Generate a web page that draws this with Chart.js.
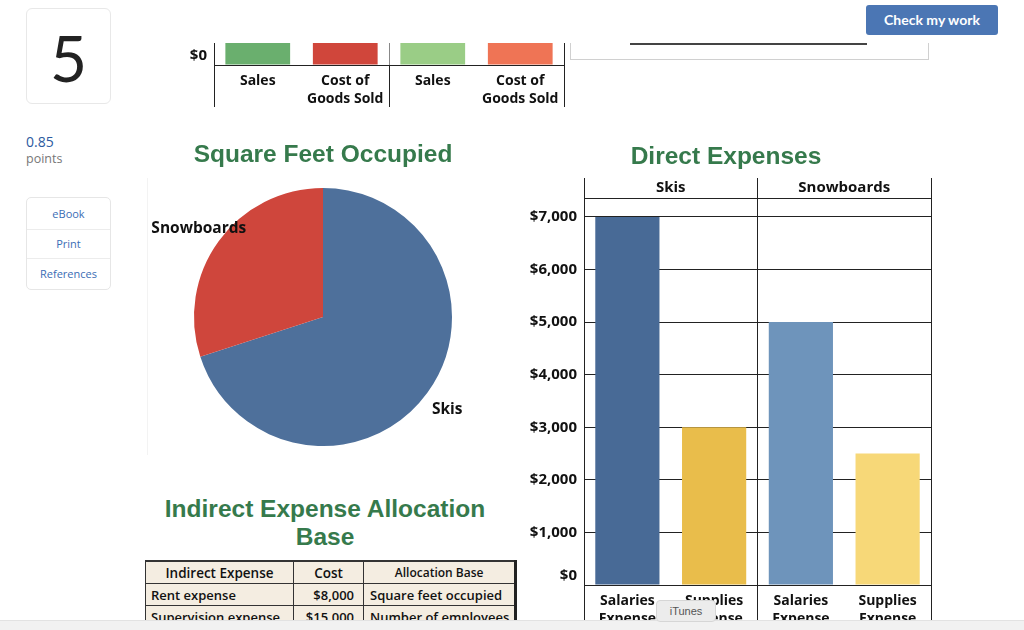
<!DOCTYPE html>
<html><head><meta charset="utf-8">
<script src="https://cdn.jsdelivr.net/npm/chart.js@4.4.1/dist/chart.umd.min.js"></script>
<style>
html,body{margin:0;padding:0;width:1024px;height:630px;overflow:hidden;background:#fff;font-family:"Open Sans",sans-serif;}
.a{position:absolute;}
#numbox{left:26px;top:8px;width:83px;height:94px;border:1px solid #e8e8e8;border-radius:6px;font-family:Lato,sans-serif;font-size:64px;color:#222;text-align:center;line-height:98px;}
#pts{left:26px;top:133px;font-size:14px;color:#2c5aa0;line-height:18px;}
#ptsl{left:26px;top:151px;font-size:12.5px;color:#777;line-height:16px;}
#links{left:26px;top:197px;width:83px;height:91px;border:1px solid #e6e6e6;border-radius:5px;font-size:11px;color:#3b6db5;}
#links div{text-align:center;border-bottom:1px solid #ececec;}
#btn{left:866px;top:5px;width:132px;height:30px;background:#4b76b4;border-radius:3px;color:#fff;font-family:Lato,sans-serif;font-weight:bold;font-size:14px;line-height:29px;text-align:center;}
#topclip{left:0;top:43px;width:1024px;height:64px;overflow:hidden;}
#sales{position:absolute;left:141px;top:-278px;}
#legbox{left:570px;top:43px;width:357px;height:16px;border:1px solid #d0d0d0;border-top:none;}
#legline{left:630px;top:43px;width:237px;height:2px;background:#444;}
#pieline{left:147px;top:178px;width:1px;height:277px;background:#f3f3f3;}
#pie{left:147px;top:135px;}
#direct{left:521px;top:135px;}
#iehead{left:140px;top:495px;width:370px;text-align:center;font-family:"Liberation Sans",Arial,sans-serif;font-weight:bold;font-size:24.5px;line-height:28px;color:#367a4c;}
#tbl{left:145px;top:560px;}
table{border-collapse:collapse;background:#f4ede1;font-family:"Open Sans",sans-serif;font-weight:600;color:#111;font-size:13px;border-top:2px solid #333;}
td,th{border:1px solid #333;padding:0 5px;height:21px;white-space:nowrap;}
th{font-weight:600;font-size:13.5px;}
td.last,th.last{border-right:3px solid #222;}
#bar{left:0;top:620px;width:1024px;height:10px;background:#f1f1f1;border-top:1px solid #e2e2e2;}
#itunes{left:656px;top:600px;width:58px;height:20px;background:#ececec;border:1px solid #d6d6d6;border-radius:4px;font-family:"Liberation Sans",sans-serif;font-size:11px;color:#555;text-align:center;line-height:20px;}
</style></head><body>
<div class="a" id="numbox">5</div>
<div class="a" id="pts">0.85</div>
<div class="a" id="ptsl">points</div>
<div class="a" id="links">
 <div style="height:31px;line-height:31px;">eBook</div>
 <div style="height:28px;line-height:28px;">Print</div>
 <div style="height:30px;line-height:30px;border-bottom:none;">References</div>
</div>
<div class="a" id="btn">Check my work</div>
<div class="a" id="topclip"><canvas id="sales" width="424" height="360"></canvas></div>
<div class="a" id="legbox"></div>
<div class="a" id="legline"></div>
<div class="a" id="pieline"></div>
<canvas class="a" id="pie" width="352" height="311"></canvas>
<canvas class="a" id="direct" width="411" height="510"></canvas>
<div class="a" id="iehead">Indirect Expense Allocation<br>Base</div>
<div class="a" id="tbl">
<table>
<tr><th style="width:137px;">Indirect Expense</th><th style="width:59px;">Cost</th><th class="last" style="width:136px;font-size:12px;">Allocation Base</th></tr>
<tr><td>Rent expense</td><td style="text-align:right;padding-right:9px;">$8,000</td><td class="last" style="padding-left:6px;">Square feet occupied</td></tr>
<tr><td>Supervision expense</td><td style="text-align:right;padding-right:9px;">$15,000</td><td class="last" style="padding-left:6px;">Number of employees</td></tr>
</table>
</div>
<div class="a" id="bar"></div>
<div class="a" id="itunes">iTunes</div>

<script>
// ---- data ----
const pieLabels = ['Skis', 'Snowboards'];
const pieValues = [70, 30];
const pieColors = ['#4e709b', '#cf463c'];

const directGroups = ['Skis', 'Snowboards'];
const directCategories = [['Salaries', 'Expense'], ['Supplies', 'Expense'], ['Salaries', 'Expense'], ['Supplies', 'Expense']];
const directValues = [7000, 3000, 5000, 2500];
const directColors = ['#486a96', '#e9bd4b', '#6e94bb', '#f7d878'];
const directTicks = [0, 1000, 2000, 3000, 4000, 5000, 6000, 7000];

const salesGroups = ['Skis', 'Snowboards'];
const salesCategories = ['Sales', ['Cost of', 'Goods Sold'], 'Sales', ['Cost of', 'Goods Sold']];
const salesValues = [30000, 18000, 25000, 15000];
const salesColors = ['#6aaf6e', '#d0463b', '#9acd86', '#ef7455'];
const salesTicks = [0, 10000, 20000, 30000];

// ---- styling ----
const GREEN = '#367a4c';
const LINE = '#222';
const TXT = '#111';
const tickFont = {family: 'Open Sans', size: 15, weight: 'bold', lineHeight: 1.2};
const catFont = {family: 'Open Sans', size: 14, weight: 'bold', lineHeight: 1.3};
const titleFont = {family: 'Liberation Sans', size: 24.5, weight: 'bold', lineHeight: 1.2};
const money = v => v === 0 ? ['$0', ''] : '$' + Number(v).toLocaleString('en-US');
const evenLine = ctx => (ctx.index === undefined || ctx.index % 2 === 0) ? LINE : 'rgba(0,0,0,0)';

function barOptions(titleText, groups, ticks, ymax, midColor) {
  return {
    responsive: false, maintainAspectRatio: false, animation: false,
    layout: {padding: {left: 0, right: 1, top: 0, bottom: 0}},
    plugins: {
      legend: {display: false}, tooltip: {enabled: false},
      title: {display: !!titleText, text: titleText, color: GREEN, font: titleFont, padding: {top: 8, bottom: 0}}
    },
    scales: {
      x: {
        type: 'category', position: 'bottom', offset: true,
        grid: {offset: true, drawOnChartArea: false, drawTicks: true, tickLength: 50, color: evenLine, lineWidth: 1},
        border: {display: true, color: LINE},
        ticks: {color: TXT, font: catFont, padding: -43, maxRotation: 0, autoSkip: false},
        afterFit(s) { s.height = 60; }
      },
      x2: {
        type: 'category', position: 'top', labels: groups, offset: true,
        grid: {offset: true, drawOnChartArea: true, drawTicks: true, tickLength: 20,
               color: ctx => ctx.index === 1 ? midColor : LINE, lineWidth: 1},
        border: {display: true, color: LINE},
        ticks: {color: TXT, font: tickFont, padding: -19, maxRotation: 0, autoSkip: false},
        afterFit(s) { s.height = 25.6; }
      },
      y: {
        min: 0, max: ymax,
        afterBuildTicks(s) { s.ticks = ticks.map(v => ({value: v})); },
        grid: {drawTicks: false, color: LINE, lineWidth: 1},
        border: {display: false},
        ticks: {padding: 7, color: TXT, font: tickFont, callback: money},
        afterFit(s) { s.width = 63; }
      }
    }
  };
}

// Direct expenses chart
new Chart(document.getElementById('direct'), {
  type: 'bar',
  data: {labels: directCategories, datasets: [{data: directValues, backgroundColor: directColors, borderWidth: 0, barPercentage: 0.74, categoryPercentage: 1}]},
  options: barOptions('Direct Expenses', directGroups, directTicks, 7360, LINE)
});

// Sales / COGS chart (only its bottom is visible)
const salesOpts = barOptions('', salesGroups, salesTicks, 32000, '#888');
salesOpts.scales.y.afterFit = s => { s.width = 73; };
salesOpts.scales.x2.afterFit = s => { s.height = 28.6; };
new Chart(document.getElementById('sales'), {
  type: 'bar',
  data: {labels: salesCategories, datasets: [{data: salesValues, backgroundColor: salesColors, borderWidth: 0, barPercentage: 0.74, categoryPercentage: 1}]},
  options: salesOpts
});

// Pie chart
const pieLabelPlugin = {
  id: 'pieLabels',
  afterDatasetsDraw(chart) {
    const ctx = chart.ctx;
    const meta = chart.getDatasetMeta(0);
    ctx.save();
    ctx.font = 'bold 15.5px "Open Sans"';
    ctx.fillStyle = TXT;
    ctx.textAlign = 'center';
    ctx.textBaseline = 'middle';
    meta.data.forEach((arc, i) => {
      const p = arc.getProps(['x', 'y', 'startAngle', 'endAngle', 'outerRadius'], true);
      const mid = (p.startAngle + p.endAngle) / 2;
      const r = p.outerRadius * 1.19;
      ctx.fillText(chart.data.labels[i], p.x + Math.cos(mid) * r, p.y + Math.sin(mid) * r + 2);
    });
    ctx.restore();
  }
};
new Chart(document.getElementById('pie'), {
  type: 'pie',
  data: {labels: pieLabels, datasets: [{data: pieValues, backgroundColor: pieColors, borderWidth: 0, hoverOffset: 0, offset: 0}]},
  options: {
    responsive: false, maintainAspectRatio: false, animation: false,
    layout: {padding: 0},
    plugins: {
      legend: {display: false}, tooltip: {enabled: false},
      title: {display: true, text: 'Square Feet Occupied', color: GREEN, font: titleFont, padding: {top: 6, bottom: 17.6}}
    }
  },
  plugins: [pieLabelPlugin]
});
</script>
</body></html>
